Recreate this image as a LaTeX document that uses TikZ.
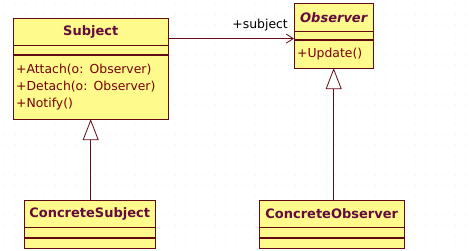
\documentclass[tikz,border=0pt]{standalone}
\usepackage{fontspec}
\setmainfont{DejaVu Sans}
\usepackage{xcolor}
\usepackage{tikz}
\usetikzlibrary{arrows.meta,positioning}

\definecolor{umlfill}{RGB}{255,250,140}
\definecolor{umlline}{RGB}{100,10,20}
\definecolor{umlname}{RGB}{100,10,60}
\definecolor{umltext}{RGB}{120,0,10}

\begin{document}
\begin{tikzpicture}[x=1pt, y=-1pt,
  clsname/.style={draw=umlline, fill=umlfill, rectangle, anchor=north west, inner sep=0pt, font=\fontsize{13}{15}\selectfont\bfseries, text=umlname},
  clsrow/.style={draw=umlline, fill=umlfill, rectangle, anchor=north, inner sep=0pt},
  clsops/.style={draw=umlline, fill=umlfill, rectangle, anchor=north, inner sep=3pt, align=left, text=umltext, font=\fontsize{12.4}{17}\selectfont},
  assoc/.style={draw=umlline, thick, -{Straight Barb[length=7pt,width=9pt]}},
  inherit/.style={draw=umlline, thick, -{Triangle[open, length=21pt, width=16pt, fill=white]}}
]
\useasboundingbox (0,0) rectangle (471,251);

% dotted background
\foreach \gx in {5,15,...,465}
  \foreach \gy in {5,15,...,245}
    \fill[gray!30] (\gx,\gy) circle (0.5pt);

% Subject
\node[clsname, minimum width=155pt, minimum height=27pt] (subjT) at (13,18) {Subject};
\node[clsrow, minimum width=155pt, minimum height=9pt] (subjA) at (subjT.south) {};
\node[clsops, minimum width=155pt, minimum height=64pt, text width=149pt] (subjM) at (subjA.south)
  {+Attach(o: Observer)\\+Detach(o: Observer)\\+Notify()};

% Observer
\node[clsname, minimum width=79pt, minimum height=28pt, font=\fontsize{13}{15}\selectfont\bfseries\itshape] (obsT) at (294,3) {Observer};
\node[clsrow, minimum width=79pt, minimum height=8pt] (obsA) at (obsT.south) {};
\node[clsops, minimum width=79pt, minimum height=28pt, text width=73pt] (obsM) at (obsA.south) {+Update()};

% ConcreteSubject
\node[clsname, minimum width=131pt, minimum height=27pt] (csT) at (24,200) {ConcreteSubject};
\node[clsrow, minimum width=131pt, minimum height=10pt] (csA) at (csT.south) {};
\node[clsrow, minimum width=131pt, minimum height=10pt] (csM) at (csA.south) {};

% ConcreteObserver
\node[clsname, minimum width=145pt, minimum height=27pt] (coT) at (259,200) {ConcreteObserver};
\node[clsrow, minimum width=145pt, minimum height=10pt] (coA) at (coT.south) {};
\node[clsrow, minimum width=145pt, minimum height=10pt] (coM) at (coA.south) {};

% Arrows
\coordinate (assocEnd) at ([yshift=-3pt]obsA.west);
\draw[assoc] (subjT.east |- assocEnd) -- (assocEnd);
\node[anchor=base east, inner sep=0pt, font=\fontsize{12.4}{14}\selectfont] (role) at ([xshift=-6pt,yshift=10pt]assocEnd) {+subject};

\draw[inherit] (csT.north -| subjM.south) -- (subjM.south);
\draw[inherit] ([xshift=2pt]coT.north) -- ([xshift=2pt]coT.north |- obsM.south);

\end{tikzpicture}
\end{document}
